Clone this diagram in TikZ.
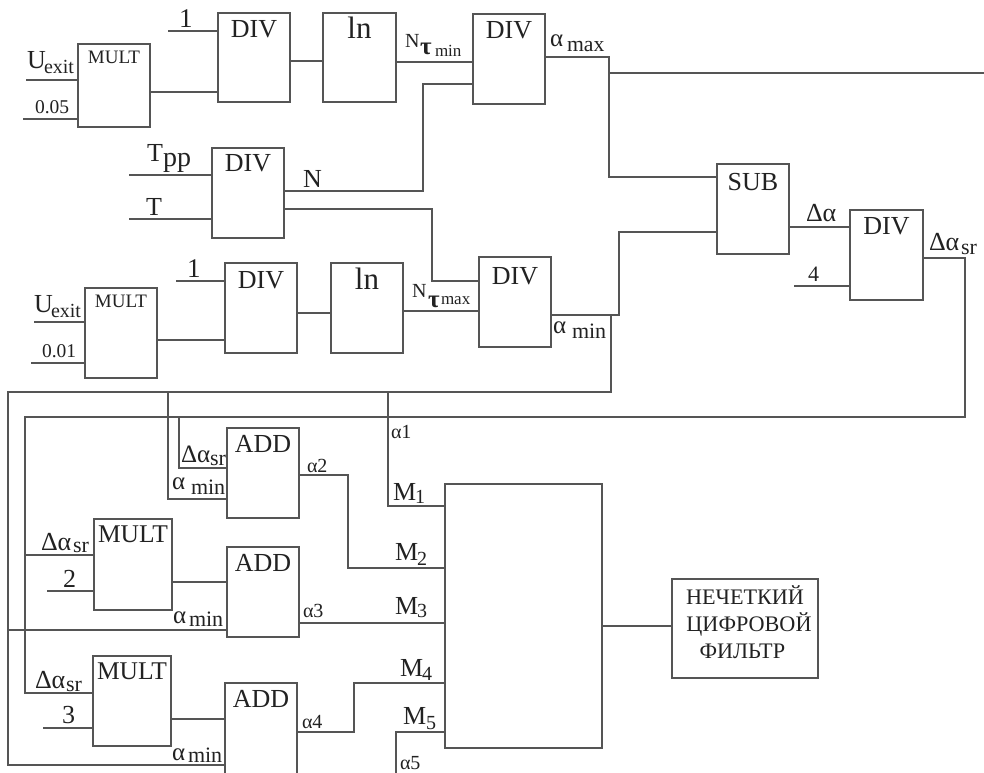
\documentclass[tikz,border=0pt]{standalone}
\usepackage{fontspec}
\setmainfont{Liberation Serif}
\definecolor{ink}{HTML}{555555}
\definecolor{txt}{HTML}{222222}
\newcommand\fpx[1]{\fontsize{\the\dimexpr#1pt*3/4\relax}{\the\dimexpr#1pt*27/26\relax}\selectfont}
\tikzset{
  wire/.style={draw=ink,line width=1pt,line join=miter},
  blockbox/.style={draw=ink,line width=1pt,inner sep=0pt,outer sep=0pt,anchor=north west,align=center,text=txt},
  lab/.style={inner sep=0pt,outer sep=0pt,anchor=base west,text=txt}
}
% name, x1,y1,x2,y2, baseline, font px, text
\newcommand\blk[8]{\node[blockbox,text width=\the\dimexpr#4pt*3/4-#2pt*3/4\relax,
   text height=\the\dimexpr#6pt*3/4-#3pt*3/4\relax,text depth=\the\dimexpr#5pt*3/4-#6pt*3/4\relax,font=\fpx{#7}] (#1) at (#2,#3) {#8};}
% name,x,y,size,text
\newcommand\lb[5]{\node[lab] (#1) at (#2,#3) {\fpx{#4}#5};}
% name,x,y,size,text,subx,suby,subsize,subtext
\newcommand\lbs[9]{\node[lab] (#1) at (#2,#3) {\rlap{\fpx{#4}#5}\hspace*{\dimexpr#6pt*3/4-#2pt*3/4\relax}\raisebox{\dimexpr#3pt*3/4-#7pt*3/4\relax}{\fpx{#8}#9}};}
\begin{document}
\begin{tikzpicture}[x=0.75pt,y=-0.75pt]
\useasboundingbox (0,0) rectangle (984,773);
\clip (0,0) rectangle (984,773);
\fill[white] (0,0) rectangle (984,773);
% blocks
\blk{multA}{78}{44}{150}{127}{64}{19}{MULT}
\blk{divA}{218}{13}{290}{102}{38}{26}{DIV}
\blk{lnA}{323}{13}{396}{102}{39}{31}{ln}
\blk{divB}{473}{14}{545}{104}{39}{26}{DIV}
\blk{divT}{212}{148}{284}{238}{172}{26}{DIV}
\blk{multB}{85}{288}{157}{378}{307}{19}{MULT}
\blk{divC}{225}{263}{297}{353}{289}{26}{DIV}
\blk{lnB}{331}{263}{403}{353}{290}{31}{ln}
\blk{divD}{479}{257}{551}{347}{285}{26}{DIV}
\blk{sub}{717}{164}{789}{254}{191}{26}{SUB}
\blk{divE}{850}{210}{923}{300}{235}{26}{DIV}
\blk{addA}{227}{428}{299}{518}{452}{26}{ADD}
\blk{multC}{94}{519}{172}{610}{542}{25.5}{MULT}
\blk{addB}{227}{547}{299}{637}{571}{26}{ADD}
\blk{multD}{93}{656}{171}{746}{679}{25.5}{MULT}
\blk{addC}{225}{683}{297}{790}{707}{26}{ADD}
\blk{big}{445}{484}{602}{748}{600}{10}{}
\node[blockbox,anchor=center,minimum width=109.5pt,minimum height=74.25pt,font=\fpx{22.2}] (fuzzy) at (745,628.5) {НЕЧЕТКИЙ\\[-2.9pt]\hspace*{6pt}ЦИФРОВОЙ\\[-2.9pt]\rule[-10pt]{0pt}{0pt}ФИЛЬТР\hspace*{4pt}};
% free ends and bends
\coordinate (sUa) at (26,80);
\coordinate (sCa) at (23,119);
\coordinate (sOneA) at (168,31);
\coordinate (sTpp) at (129,175);
\coordinate (sT) at (129,219);
\coordinate (sUb) at (34,322);
\coordinate (sCb) at (31,363);
\coordinate (sOneB) at (176,281);
\coordinate (sFour) at (794,286);
\coordinate (sTwo) at (47,591);
\coordinate (sThree) at (43,728);
\coordinate (maxBend) at (609,57);
\coordinate (maxJ) at (609,73);
\coordinate (maxOut) at (984,73);
\coordinate (nBend) at (423,191);
\coordinate (n2Bend) at (432,209);
\coordinate (minBend) at (619,315);
\coordinate (minJ) at (611,315);
\coordinate (busAr) at (611,392);
\coordinate (busAl) at (8,392);
\coordinate (busAb) at (8,765);
\coordinate (busAm) at (8,630);
\coordinate (tapA) at (168,392);
\coordinate (tapM) at (388,392);
\coordinate (srBend) at (965,258);
\coordinate (busBr) at (965,417);
\coordinate (busBl) at (25,417);
\coordinate (busBm) at (25,555);
\coordinate (tapB) at (179,417);
\coordinate (a2Bend) at (348,475);
\coordinate (a4Bend) at (354,732);
\coordinate (m5Bend) at (396,732);
\coordinate (m5End) at (396,773);
% connectors
\draw[wire] (sUa) -- (multA.west |- sUa);
\draw[wire] (sCa) -- (multA.west |- sCa);
\draw[wire] (sOneA) -- (divA.west |- sOneA);
\draw[wire] (multA.east |- 0,92) -- (divA.west |- 0,92);
\draw[wire] (divA.east |- 0,61) -- (lnA.west |- 0,61);
\draw[wire] (lnA.east |- 0,62) -- (divB.west |- 0,62);
\draw[wire] (sTpp) -- (divT.west |- sTpp);
\draw[wire] (sT) -- (divT.west |- sT);
\draw[wire] (divT.east |- nBend) -- (nBend) |- (divB.west |- 0,84);
\draw[wire] (divT.east |- n2Bend) -- (n2Bend) |- (divD.west |- 0,281);
\draw[wire] (sUb) -- (multB.west |- sUb);
\draw[wire] (sCb) -- (multB.west |- sCb);
\draw[wire] (sOneB) -- (divC.west |- sOneB);
\draw[wire] (multB.east |- 0,340) -- (divC.west |- 0,340);
\draw[wire] (divC.east |- 0,313) -- (lnB.west |- 0,313);
\draw[wire] (lnB.east |- 0,311) -- (divD.west |- 0,311);
\draw[wire] (divB.east |- maxBend) -- (maxBend) |- (sub.west |- 0,177);
\draw[wire] (maxJ) -- (maxOut);
\draw[wire] (divD.east |- minBend) -- (minBend) |- (sub.west |- 0,232);
\draw[wire] (sub.east |- 0,227) -- (divE.west |- 0,227);
\draw[wire] (sFour) -- (divE.west |- sFour);
\draw[wire] (minJ) -- (busAr) -- (busAl) -- (busAb) -- (addC.west |- busAb);
\draw[wire] (busAm) -- (addB.west |- busAm);
\draw[wire] (tapA) |- (addA.west |- 0,499);
\draw[wire] (tapM) |- (big.west |- 0,506);
\draw[wire] (divE.east |- srBend) -- (srBend) -- (busBr) -- (busBl) |- (multD.west |- 0,693);
\draw[wire] (busBm) -- (multC.west |- busBm);
\draw[wire] (tapB) |- (addA.west |- 0,468);
\draw[wire] (sTwo) -- (multC.west |- sTwo);
\draw[wire] (sThree) -- (multD.west |- sThree);
\draw[wire] (multC.east |- 0,582) -- (addB.west |- 0,582);
\draw[wire] (multD.east |- 0,719) -- (addC.west |- 0,719);
\draw[wire] (addA.east |- a2Bend) -- (a2Bend) |- (big.west |- 0,568);
\draw[wire] (addB.east |- 0,623) -- (big.west |- 0,623);
\draw[wire] (addC.east |- a4Bend) -- (a4Bend) |- (big.west |- 0,683);
\draw[wire] (big.west |- m5Bend) -- (m5Bend) -- (m5End);
\draw[wire] (big.east |- 0,626) -- (fuzzy.west |- 0,626);
% labels
\lbs{tUa}{27}{69}{26}{U}{44}{74}{20}{exit}
\lb{tCa}{35}{114}{19.5}{0.05}
\lb{tOneA}{179}{28}{27}{1}
\node[lab] (tNmin) at (405,48) {\rlap{\fpx{20}N}\hspace*{11.25pt}\raisebox{-5.25pt}{\rlap{\fpx{25}\bfseries τ}}\hspace*{11.25pt}\raisebox{-6.75pt}{\fpx{17}min}};
\lbs{tTpp}{147}{162}{26}{T}{163}{167}{28}{pp}
\lb{tT}{146}{216}{26}{T}
\lb{tN}{303}{188}{26}{N}
\lbs{tUb}{34}{312}{26}{U}{51}{317}{20}{exit}
\lb{tCb}{42}{357}{19.5}{0.01}
\lb{tOneB}{187}{278}{27}{1}
\node[lab] (tNmax) at (412,298) {\rlap{\fpx{20}N}\hspace*{12pt}\raisebox{-6.75pt}{\rlap{\fpx{25}\bfseries τ}}\hspace*{9.75pt}\raisebox{-5.25pt}{\fpx{17}max}};
\lbs{tAmax}{550}{47}{25}{α}{567}{52}{21.7}{max}
\lbs{tAminD}{553}{334}{25}{α}{572}{339}{22}{min}
\lb{tDa}{806}{222}{26}{Δα}
\lb{tFour}{808}{282}{22}{4}
\lbs{tDsrE}{929}{251}{26}{Δα}{961}{255}{22}{sr}
\lb{tAone}{391}{438}{20}{α1}
\lbs{tDsrA}{181}{462}{25}{Δα}{210}{465}{22}{sr}
\lbs{tAminA}{172}{489}{25}{α}{191}{494}{22}{min}
\lb{tAtwo}{307}{472}{20}{α2}
\lbs{tMone}{393}{500}{26}{M}{415}{503}{20}{1}
\lbs{tMtwo}{395}{560}{26}{M}{417}{565}{20}{2}
\lbs{tMthree}{395}{614}{26}{M}{417}{617}{20}{3}
\lbs{tMfour}{400}{676}{26}{M}{422}{680}{20}{4}
\lbs{tMfive}{403}{724}{26}{M}{426}{729}{20}{5}
\lbs{tDsrC}{41}{550}{26}{Δα}{73}{552}{22}{sr}
\lb{tTwo}{63}{587}{26}{2}
\lbs{tAminB}{173}{623}{25}{α}{189}{626}{22}{min}
\lb{tAthree}{303}{617}{20}{α3}
\lbs{tDsrD}{35}{688}{26}{Δα}{66}{691}{22}{sr}
\lb{tThree}{62}{723}{26}{3}
\lbs{tAminC}{172}{760}{25}{α}{188}{762}{22}{min}
\lb{tAfour}{302}{728}{20}{α4}
\lb{tAfive}{400}{769}{20}{α5}
\end{tikzpicture}
\end{document}
